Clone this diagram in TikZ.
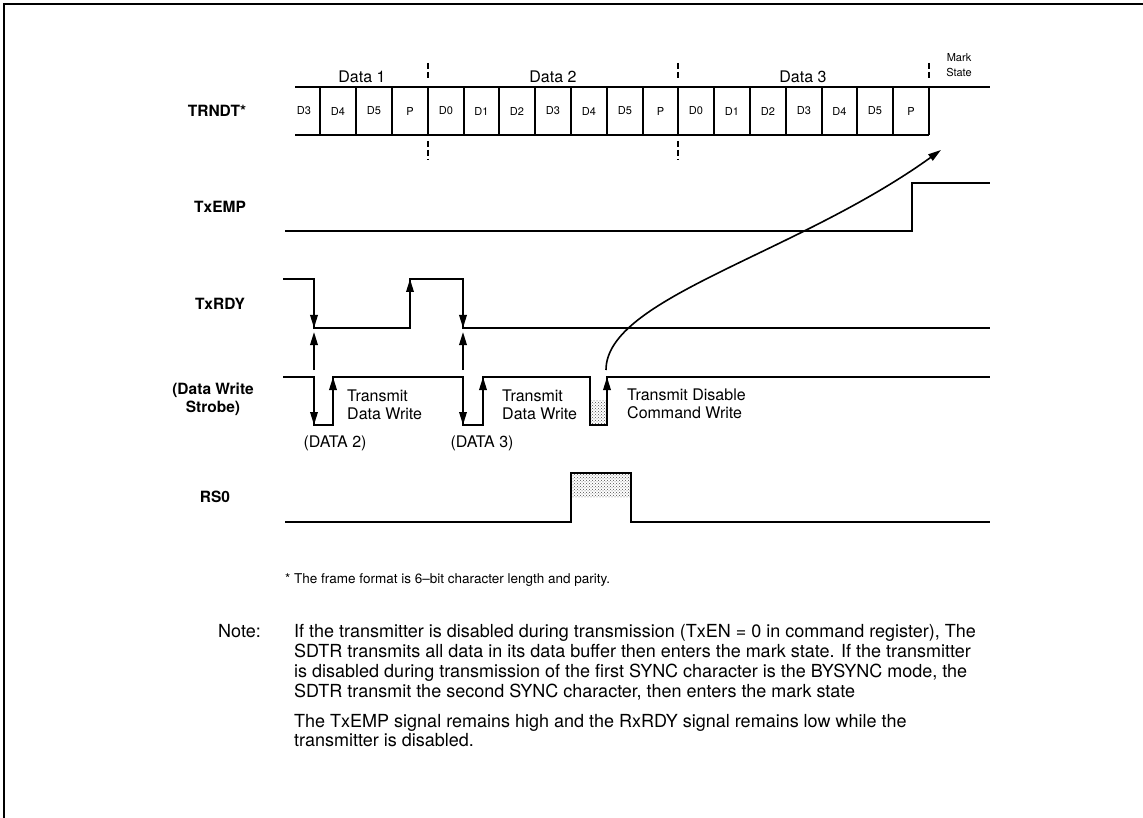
\documentclass[tikz,border=0pt]{standalone}
\usepackage{fontspec}
\setmainfont{TeX Gyre Heros}
\usetikzlibrary{arrows.meta,patterns}
\begin{document}
\begin{tikzpicture}[x=1pt,y=-1pt,
  sig/.style={line width=1.8pt, line join=miter},
  frame/.style={line width=1.6pt},
  cellline/.style={line width=2.2pt},
  arr/.style={line width=1.8pt, -{Triangle[length=13pt,width=7.5pt]}},
  bdtick/.style={line width=1.3pt, dash pattern=on 6pt off 3pt},
  lbl/.style={font=\fontsize{16}{18.5}\selectfont, inner sep=0pt},
  rowlbl/.style={font=\bfseries\fontsize{15.5}{18}\selectfont, align=center, inner sep=0pt},
  celltxt/.style={font=\fontsize{11}{13}\selectfont, inner sep=0pt},
  notetxt/.style={font=\fontsize{18}{20}\selectfont, inner sep=0pt, anchor=base west},
  shade/.style={pattern=crosshatch dots, pattern color=black!70}
]
\useasboundingbox (0,0) rectangle (1143,818);
% frame
\draw[frame] (4,818) -- (4,4) -- (1143,4);

% row labels
\node[rowlbl] (lTRNDT) at (217,111) {TRNDT*};
\node[rowlbl] (lTxEMP) at (220,207) {TxEMP};
\node[rowlbl] (lTxRDY) at (220,304) {TxRDY};
\node[rowlbl] (lDWS) at (213,399) {(Data Write\\Strobe)};
\node[rowlbl] (lRS0) at (215,497) {RS0};

% TRNDT row
\draw[sig] (295,87) -- (990,87);
\draw[sig] (295,135) -- (929,135);
\foreach \x in {320,356,392,428,464,499,535,571,607,643,678,714,750,786,822,857,893,929}
  \draw[cellline] (\x,87) -- (\x,135);
\foreach \i/\x/\t in {1/304/D3,2/338/D4,3/374/D5,4/410/P,5/446/D0,6/481.5/D1,7/517/D2,8/553/D3,9/589/D4,10/625/D5,11/660.5/P,12/696/D0,13/732/D1,14/768/D2,15/804/D3,16/839.5/D4,17/875/D5,18/911/P}
  \node[celltxt] (c\i) at (\x,111) {\t};
% data boundaries
\foreach \x in {428,678,929}
  \draw[bdtick] (\x,63) -- (\x,80);
\foreach \x in {428,678}
  \draw[bdtick] (\x,141) -- (\x,160);
\node[lbl] (d1) at (362,77) {Data 1};
\node[lbl] (d2) at (553,77) {Data 2};
\node[lbl] (d3) at (803,77) {Data 3};
\node[celltxt, align=center, font=\fontsize{11}{15}\selectfont] (mark) at (959,65) {Mark\\State};

% TxEMP
\draw[sig] (285,231) -- (912,231) -- (912,183) -- (990,183);

% TxRDY
\draw[sig] (283,279) -- (314,279) -- (314,328) -- (410,328) -- (410,279) -- (463,279) -- (463,328) -- (990,328);
\draw[arr] (314,279) -- (314,328);
\draw[arr] (410,328) -- (410,279);
\draw[arr] (463,279) -- (463,328);
% causal arrows
\draw[arr] (314,370) -- (314,332);
\draw[arr] (463,370) -- (463,332);

% Data Write Strobe
\fill[shade] (590,400) rectangle (607,425);
\draw[sig] (283,377) -- (314,377) -- (314,425) -- (333,425) -- (333,377) -- (463,377) -- (463,425) -- (483,425) -- (483,377) -- (590,377) -- (590,425) -- (607,425) -- (607,377) -- (990,377);
\draw[arr] (314,377) -- (314,425);
\draw[arr] (333,425) -- (333,377);
\draw[arr] (463,377) -- (463,425);
\draw[arr] (483,425) -- (483,377);
\draw[arr] (607,425) -- (607,377);

\node[lbl, anchor=west, align=left] (tw1) at (347,405) {Transmit\\Data Write};
\node[lbl, anchor=west, align=left] (tw2) at (502,405) {Transmit\\Data Write};
\node[lbl, anchor=west, align=left] (tdc) at (627,404) {Transmit Disable\\Command Write};
\node[lbl] (dt2) at (335,443) {(DATA 2)};
\node[lbl] (dt3) at (482,443) {(DATA 3)};

% RS0
\fill[shade] (571,473) rectangle (631,497);
\draw[sig] (285,522) -- (571,522) -- (571,473) -- (631,473) -- (631,522) -- (990,522);

% curved arrow
\coordinate (cstart) at (606,370);
\coordinate (ctip) at (941,150);
\draw[arr, line width=1.6pt] (cstart) .. controls (606,298) and (795,255) .. (ctip);

% footnote
\node[font=\fontsize{13.5}{15}\selectfont, anchor=west, inner sep=0pt] (foot) at (285,580) {* The frame format is 6–bit character length and parity.};

% note
\node[notetxt] (note) at (218,637) {Note:};
\node[notetxt] (n1) at (294,637) {If the transmitter is disabled during transmission (TxEN = 0 in command register), The};
\node[notetxt] (n2) at (294,657) {SDTR transmits all data in its data buffer then enters the mark state. If the transmitter};
\node[notetxt] (n3) at (294,677) {is disabled during transmission of the first SYNC character is the BYSYNC mode, the};
\node[notetxt] (n4) at (294,697) {SDTR transmit the second SYNC character, then enters the mark state};
\node[notetxt] (n5) at (294,727) {The TxEMP signal remains high and the RxRDY signal remains low while the};
\node[notetxt] (n6) at (294,746) {transmitter is disabled.};
\end{tikzpicture}
\end{document}
